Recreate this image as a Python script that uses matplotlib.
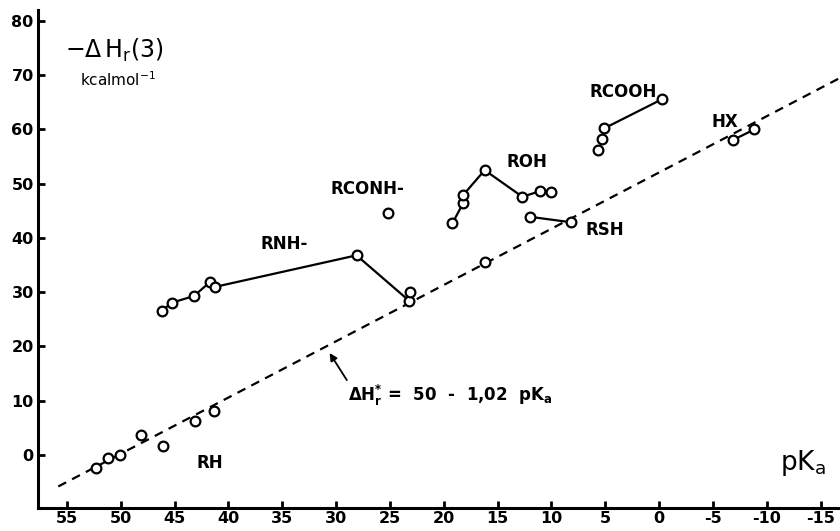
import matplotlib.pyplot as plt

# pKa (x) and -dH_r(3) in kcal/mol (y)
rh_pka = [52.3, 51.15, 50.1, 48.1, 46.1, 43.1, 41.3]
rh_dh = [-2.45, -0.6, 0.0, 3.6, 1.6, 6.3, 8.2]

rnh_pka = [46.2, 45.2, 43.2, 41.75, 41.2, 28.1, 23.2]
rnh_dh = [26.6, 28.1, 29.3, 31.8, 31.0, 36.8, 28.4]
rnh_extra_pka = [23.1]
rnh_extra_dh = [30.1]

rconh_pka = [25.2]
rconh_dh = [44.6]

roh_pka = [19.2, 18.2, 18.2, 16.2, 12.7, 11.1, 10.0]
roh_dh = [42.7, 46.4, 47.9, 52.5, 47.6, 48.6, 48.5]

rsh_pka = [12.0, 8.2]
rsh_dh = [43.9, 42.9]

online_pka = [16.2]
online_dh = [35.5]

rcooh_pka = [-0.3, 5.1]
rcooh_dh = [65.6, 60.2]
rcooh_extra_pka = [5.3, 5.7]
rcooh_extra_dh = [58.2, 56.2]

hx_pka = [-6.9, -8.85]
hx_dh = [58.1, 60.0]

# correlation line end points
fit_pka = [55.8, -16.8]
fit_dh = [-5.8, 69.5]

group_labels = ['RH', 'RNH-', 'RCONH-', 'ROH', 'RSH', 'RCOOH', 'HX']
label_pka = [41.7, 34.8, 27.1, 12.3, 5.0, 3.3, -6.1]
label_dh = [-1.5, 38.9, 49.0, 54.0, 41.5, 66.9, 61.4]

xticks = [55, 50, 45, 40, 35, 30, 25, 20, 15, 10, 5, 0, -5, -10, -15]
yticks = [0, 10, 20, 30, 40, 50, 60, 70, 80]


def circles(ax, x, y, line=False):
    ax.plot(x, y, color='black', lw=1.6 if line else 0,
            marker='o', ms=7, mfc='white', mec='black', mew=1.6, zorder=3)


def main():
    fig = plt.figure(figsize=(8.4, 5.31), dpi=100)
    ax = fig.add_axes([0.045, 0.043, 0.955, 0.938])

    ax.plot(fit_pka, fit_dh, color='black', lw=1.6, ls=(0, (4, 3)), zorder=2)

    circles(ax, rh_pka, rh_dh)
    circles(ax, rnh_pka, rnh_dh, line=True)
    circles(ax, rnh_extra_pka, rnh_extra_dh)
    circles(ax, rconh_pka, rconh_dh)
    circles(ax, roh_pka, roh_dh, line=True)
    circles(ax, rsh_pka, rsh_dh, line=True)
    circles(ax, online_pka, online_dh)
    circles(ax, rcooh_pka, rcooh_dh, line=True)
    circles(ax, rcooh_extra_pka, rcooh_extra_dh)
    circles(ax, hx_pka, hx_dh, line=True)

    for lab, x, y in zip(group_labels, label_pka, label_dh):
        ax.text(x, y, lab, ha='center', va='center', fontsize=12, fontweight='bold')

    ax.annotate('', xy=(30.6, 18.8), xytext=(29.0, 13.8),
                arrowprops=dict(arrowstyle='-|>', color='black', lw=1.3,
                                shrinkA=0, shrinkB=0, mutation_scale=11))
    ax.text(28.9, 10.9, r'$\mathbf{\Delta H_r^{*}}$ =  50  -  1,02  pK$_\mathbf{a}$',
            ha='left', va='center', fontsize=12, fontweight='bold')

    ax.text(-13.4, -1.5, r'pK$_\mathrm{a}$', ha='center', va='center', fontsize=19)
    ax.text(55.2, 74.5, r'$-\Delta\,$H$_\mathrm{r}$(3)', ha='left', va='center', fontsize=17)
    ax.text(53.8, 69.2, r'kcalmol$^{-1}$', ha='left', va='center', fontsize=11)

    ax.set_xlim(57.7, -16.8)
    ax.set_ylim(-9.8, 82)
    ax.set_xticks(xticks)
    ax.set_yticks(yticks)
    ax.set_xticklabels([str(v) for v in xticks])

    for s in ['top', 'right']:
        ax.spines[s].set_visible(False)
    for s in ['left', 'bottom']:
        ax.spines[s].set_linewidth(2.2)
    ax.tick_params(direction='in', length=5, width=2, labelsize=11.5, pad=3)
    ax.tick_params(axis='x', pad=2)
    for t in ax.get_xticklabels() + ax.get_yticklabels():
        t.set_fontweight('bold')

    fig.savefig('out.png', dpi=100)


if __name__ == '__main__':
    main()
